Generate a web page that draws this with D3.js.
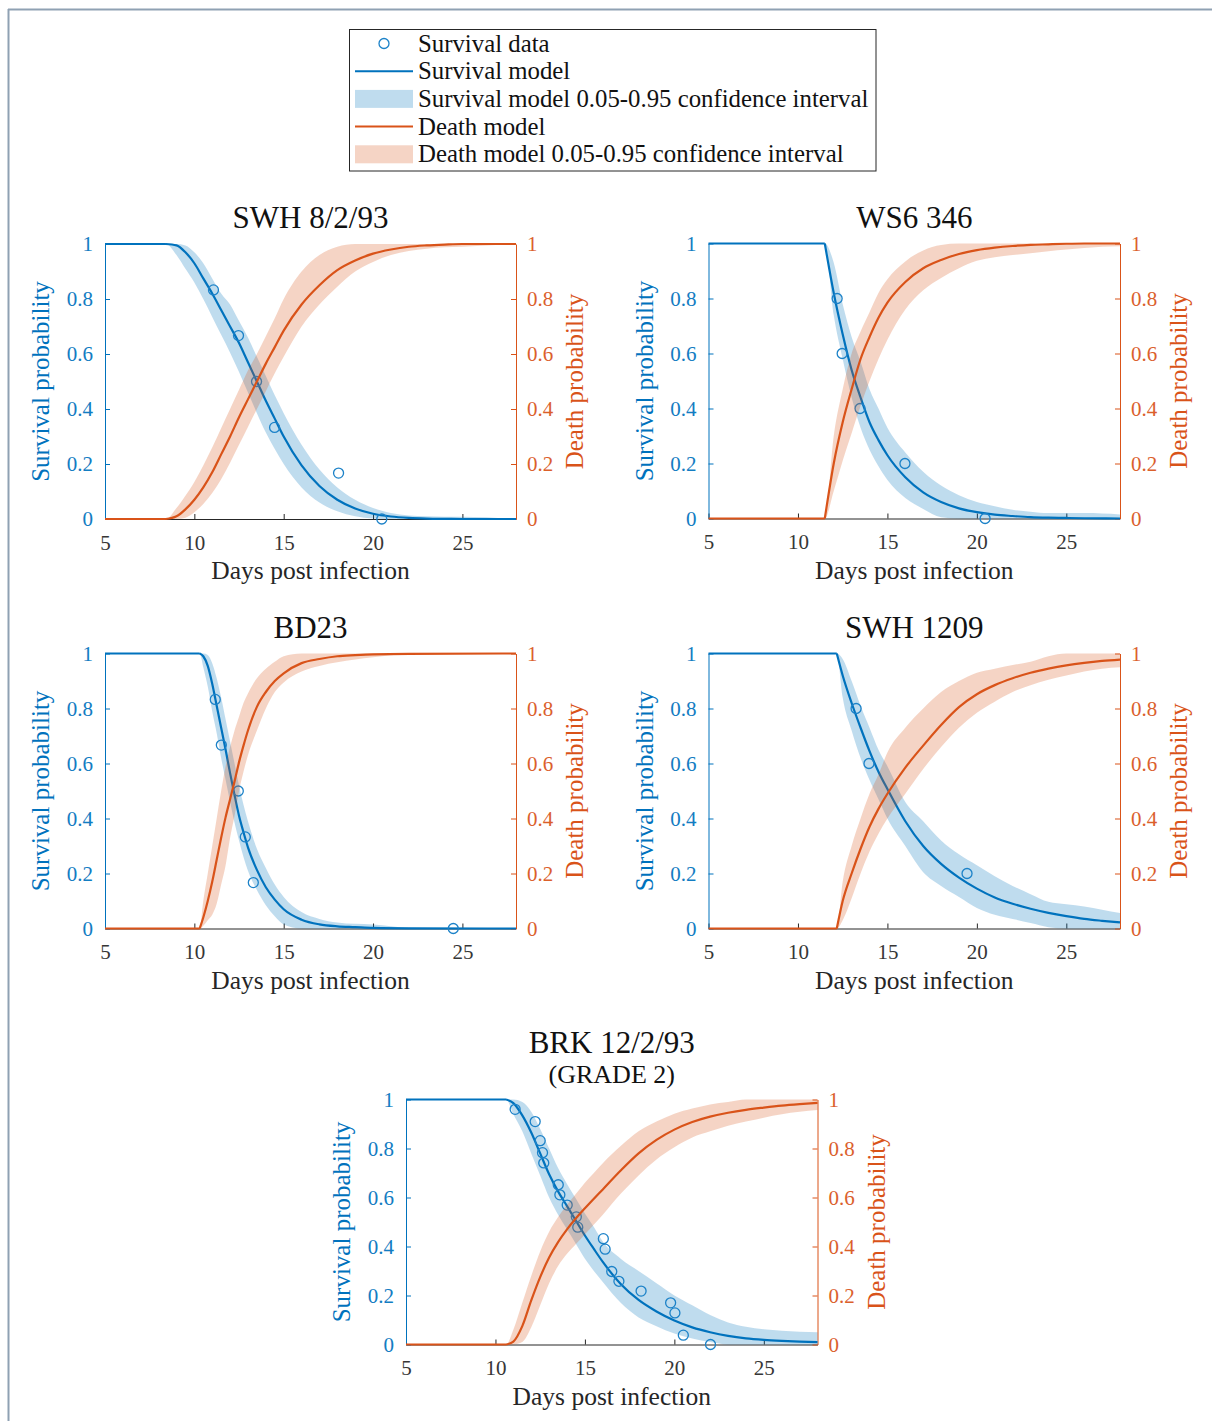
<!DOCTYPE html>
<html>
<head>
<meta charset="utf-8">
<script src="https://cdn.jsdelivr.net/npm/d3@7"></script>
<style>
	body { margin: 0; background: #fff; }
	svg { display: block; }
	text { font-family: "Liberation Serif", "Times New Roman", serif; }
</style>
</head>
<body>
<script>

var xTicks = [5, 10, 15, 20, 25]
var yTicks = [0, 0.2, 0.4, 0.6, 0.8, 1]

var legendLabels = [
	'Survival data',
	'Survival model',
	'Survival model 0.05-0.95 confidence interval',
	'Death model',
	'Death model 0.05-0.95 confidence interval'
]

// SWH 8/2/93
var days1 = [5, 8.4, 9, 9.5, 10, 10.5, 11, 11.5, 12, 12.5, 13, 13.5, 14, 14.5, 15, 16, 17, 18, 19, 20, 21, 22, 23, 24, 25, 28]
var surv1 = [1, 1, 0.995, 0.97, 0.93, 0.875, 0.82, 0.76, 0.70, 0.64, 0.57, 0.50, 0.43, 0.365, 0.30, 0.195, 0.12, 0.07, 0.038, 0.019, 0.009, 0.004, 0.0015, 0.0005, 0, 0]
var survHi1 = [1, 1, 1, 0.995, 0.97, 0.93, 0.875, 0.82, 0.78, 0.72, 0.66, 0.59, 0.52, 0.45, 0.385, 0.27, 0.18, 0.115, 0.07, 0.04, 0.022, 0.013, 0.01, 0.008, 0.008, 0]
var survLo1 = [1, 1, 0.96, 0.91, 0.86, 0.80, 0.735, 0.67, 0.605, 0.535, 0.46, 0.385, 0.315, 0.255, 0.2, 0.115, 0.06, 0.028, 0.01, 0.002, 0, 0, 0, 0, 0, 0]
var death1 = [0, 0, 0.01, 0.035, 0.07, 0.115, 0.17, 0.235, 0.30, 0.37, 0.435, 0.50, 0.565, 0.625, 0.685, 0.78, 0.85, 0.905, 0.94, 0.965, 0.98, 0.99, 0.995, 0.998, 1, 1]
var deathHi1 = [0, 0, 0.04, 0.085, 0.135, 0.195, 0.26, 0.33, 0.4, 0.47, 0.54, 0.6, 0.665, 0.73, 0.8, 0.9, 0.96, 0.99, 1, 1, 1, 1, 1, 1, 1, 1]
var deathLo1 = [0, 0, 0, 0.005, 0.025, 0.055, 0.095, 0.145, 0.205, 0.27, 0.335, 0.4, 0.465, 0.53, 0.59, 0.7, 0.78, 0.845, 0.9, 0.935, 0.96, 0.975, 0.983, 0.988, 0.99, 1]
var obsDays1 = [11.07, 12.47, 13.48, 14.49, 18.07, 20.49]
var obsSurv1 = [0.833, 0.667, 0.5, 0.333, 0.167, 0]

// WS6 346
var days2 = [5, 11.5, 12, 12.5, 13, 13.5, 14, 14.5, 15, 16, 17, 18, 19, 20, 21, 22, 23, 24, 25, 26, 28]
var surv2 = [1, 1, 0.82, 0.67, 0.54, 0.44, 0.35, 0.285, 0.23, 0.15, 0.095, 0.06, 0.037, 0.023, 0.014, 0.009, 0.005, 0.003, 0.002, 0.001, 0]
var survHi2 = [1, 1, 0.93, 0.78, 0.66, 0.57, 0.47, 0.4, 0.33, 0.24, 0.17, 0.12, 0.085, 0.06, 0.045, 0.032, 0.025, 0.02, 0.02, 0.02, 0.015]
var survLo2 = [1, 1, 0.74, 0.58, 0.44, 0.33, 0.25, 0.19, 0.14, 0.075, 0.035, 0.005, 0, 0, 0, 0, 0, 0, 0, 0, 0]
var death2 = [0, 0, 0.2, 0.35, 0.47, 0.58, 0.66, 0.73, 0.785, 0.86, 0.91, 0.94, 0.962, 0.976, 0.985, 0.991, 0.995, 0.997, 0.999, 1, 1]
var deathHi2 = [0, 0, 0.3, 0.47, 0.6, 0.68, 0.75, 0.82, 0.87, 0.935, 0.975, 0.995, 1, 1, 1, 1, 1, 1, 1, 1, 1]
var deathLo2 = [0, 0, 0.1, 0.21, 0.31, 0.41, 0.5, 0.58, 0.65, 0.76, 0.83, 0.875, 0.91, 0.937, 0.95, 0.958, 0.965, 0.972, 0.978, 0.984, 0.99]
var obsDays2 = [12.19, 12.47, 13.47, 15.98, 20.46]
var obsSurv2 = [0.8, 0.6, 0.4, 0.2, 0]

// BD23
var days3 = [5, 10.3, 10.5, 10.75, 11, 11.25, 11.5, 11.75, 12, 12.25, 12.5, 12.75, 13, 13.5, 14, 14.5, 15, 16, 17, 18, 19, 20, 22, 28]
var surv3 = [1, 1, 0.99, 0.955, 0.89, 0.81, 0.73, 0.65, 0.565, 0.485, 0.41, 0.35, 0.295, 0.213, 0.15, 0.105, 0.07, 0.032, 0.015, 0.008, 0.005, 0.002, 0.0005, 0]
var survHi3 = [1, 1, 1, 0.995, 0.965, 0.91, 0.84, 0.76, 0.68, 0.6, 0.52, 0.45, 0.39, 0.29, 0.22, 0.16, 0.115, 0.06, 0.035, 0.022, 0.017, 0.015, 0.003, 0]
var survLo3 = [1, 1, 0.95, 0.88, 0.79, 0.71, 0.62, 0.54, 0.46, 0.385, 0.32, 0.26, 0.21, 0.14, 0.085, 0.045, 0.015, 0, 0, 0, 0, 0, 0, 0]
var death3 = [0, 0, 0.04, 0.1, 0.17, 0.25, 0.33, 0.405, 0.47, 0.535, 0.605, 0.665, 0.72, 0.806, 0.86, 0.9, 0.928, 0.965, 0.98, 0.99, 0.994, 0.997, 0.999, 1]
var deathHi3 = [0, 0, 0.1, 0.2, 0.3, 0.4, 0.5, 0.59, 0.66, 0.72, 0.77, 0.82, 0.855, 0.91, 0.945, 0.97, 0.99, 1, 1, 1, 1, 1, 1, 1]
var deathLo3 = [0, 0, 0.01, 0.03, 0.05, 0.09, 0.16, 0.23, 0.33, 0.41, 0.5, 0.57, 0.63, 0.72, 0.8, 0.86, 0.895, 0.935, 0.955, 0.968, 0.978, 0.986, 0.997, 1]
var obsDays3 = [11.17, 11.51, 12.46, 12.85, 13.3, 24.49]
var obsSurv3 = [0.833, 0.667, 0.5, 0.333, 0.167, 0]

// SWH 1209
var days4 = [5, 12.17, 12.5, 13, 13.5, 14, 14.5, 15, 16, 17, 18, 19, 20, 21, 22, 23, 24, 25, 26, 27, 28]
var surv4 = [1, 1, 0.92, 0.82, 0.73, 0.645, 0.57, 0.507, 0.39, 0.30, 0.235, 0.185, 0.145, 0.113, 0.09, 0.072, 0.057, 0.045, 0.035, 0.028, 0.022]
var survHi4 = [1, 1, 0.98, 0.9, 0.81, 0.73, 0.65, 0.59, 0.46, 0.39, 0.32, 0.27, 0.23, 0.19, 0.155, 0.125, 0.097, 0.088, 0.08, 0.068, 0.056]
var survLo4 = [1, 1, 0.84, 0.72, 0.62, 0.54, 0.47, 0.4, 0.3, 0.205, 0.155, 0.115, 0.075, 0.05, 0.035, 0.02, 0.005, 0, 0, 0, 0]
var death4 = [0, 0, 0.1, 0.2, 0.29, 0.37, 0.435, 0.49, 0.585, 0.665, 0.74, 0.805, 0.852, 0.885, 0.91, 0.93, 0.945, 0.957, 0.966, 0.973, 0.978]
var deathHi4 = [0, 0, 0.17, 0.3, 0.4, 0.49, 0.56, 0.64, 0.73, 0.8, 0.86, 0.9, 0.93, 0.945, 0.958, 0.97, 0.99, 1, 1, 1, 1]
var deathLo4 = [0, 0, 0.03, 0.11, 0.2, 0.28, 0.345, 0.4, 0.49, 0.58, 0.66, 0.73, 0.785, 0.825, 0.86, 0.885, 0.905, 0.92, 0.935, 0.945, 0.95]
var obsDays4 = [13.25, 13.97, 19.45]
var obsSurv4 = [0.8, 0.6, 0.2]

// BRK 12/2/93 (GRADE 2)
var days5 = [5, 10.6, 11, 11.5, 12, 12.5, 13, 13.5, 14, 14.5, 15, 15.5, 16, 17, 18, 19, 20, 21, 22, 23, 24, 25, 26, 27, 28]
var surv5 = [1, 1, 0.985, 0.935, 0.865, 0.78, 0.695, 0.625, 0.565, 0.505, 0.445, 0.39, 0.337, 0.247, 0.182, 0.135, 0.098, 0.07, 0.05, 0.035, 0.025, 0.019, 0.015, 0.012, 0.01]
var survHi5 = [1, 1, 1, 0.99, 0.95, 0.88, 0.8, 0.72, 0.655, 0.595, 0.535, 0.48, 0.42, 0.35, 0.3, 0.25, 0.2, 0.16, 0.12, 0.09, 0.072, 0.062, 0.056, 0.052, 0.05]
var survLo5 = [1, 1, 0.94, 0.87, 0.78, 0.69, 0.6, 0.53, 0.47, 0.41, 0.35, 0.3, 0.255, 0.17, 0.11, 0.075, 0.045, 0.025, 0.01, 0, 0, 0, 0, 0, 0]
var death5 = [0, 0, 0.012, 0.075, 0.18, 0.275, 0.355, 0.418, 0.47, 0.515, 0.556, 0.595, 0.633, 0.71, 0.78, 0.835, 0.877, 0.908, 0.93, 0.946, 0.958, 0.967, 0.975, 0.981, 0.986]
var deathHi5 = [0, 0, 0.06, 0.17, 0.28, 0.38, 0.46, 0.52, 0.57, 0.615, 0.66, 0.7, 0.74, 0.81, 0.87, 0.91, 0.942, 0.963, 0.98, 0.99, 1, 1, 1, 1, 1]
var deathLo5 = [0, 0, 0, 0.01, 0.07, 0.16, 0.25, 0.32, 0.37, 0.41, 0.45, 0.49, 0.53, 0.615, 0.69, 0.755, 0.805, 0.845, 0.87, 0.893, 0.91, 0.926, 0.94, 0.95, 0.957]
var obsDays5 = [11.1, 12.22, 12.5, 12.63, 12.7, 13.51, 13.6, 14.01, 14.52, 14.6, 16.03, 16.13, 16.5, 16.9, 18.14, 19.79, 20.03, 20.5, 22.02]
var obsSurv5 = [0.96, 0.91, 0.832, 0.783, 0.741, 0.652, 0.611, 0.569, 0.521, 0.479, 0.432, 0.389, 0.298, 0.258, 0.218, 0.17, 0.129, 0.038, 0]

var blue = '#0072BD',
	orange = '#D95319'

var svg = d3.select('body').append('svg')
	.attr('width', 1212)
	.attr('height', 1421)

// page frame
svg.append('line')
	.attr('x1', 8).attr('y1', 9.5).attr('x2', 1212).attr('y2', 9.5)
	.attr('stroke', '#8fa1b3').attr('stroke-width', 2)
svg.append('line')
	.attr('x1', 8.5).attr('y1', 9).attr('x2', 8.5).attr('y2', 1421)
	.attr('stroke', '#8fa1b3').attr('stroke-width', 2)

var panels = [
	{title: 'SWH 8/2/93', left: 105, top: 244, width: 411, height: 275,
		days: days1, surv: surv1, survHi: survHi1, survLo: survLo1, death: death1, deathHi: deathHi1, deathLo: deathLo1, obsDays: obsDays1, obsSurv: obsSurv1},
	{title: 'WS6 346', left: 708.5, top: 243.5, width: 411.5, height: 275,
		days: days2, surv: surv2, survHi: survHi2, survLo: survLo2, death: death2, deathHi: deathHi2, deathLo: deathLo2, obsDays: obsDays2, obsSurv: obsSurv2},
	{title: 'BD23', left: 105, top: 653.5, width: 411, height: 275,
		days: days3, surv: surv3, survHi: survHi3, survLo: survLo3, death: death3, deathHi: deathHi3, deathLo: deathLo3, obsDays: obsDays3, obsSurv: obsSurv3},
	{title: 'SWH 1209', left: 708.5, top: 653.5, width: 411.5, height: 275,
		days: days4, surv: surv4, survHi: survHi4, survLo: survLo4, death: death4, deathHi: deathHi4, deathLo: deathLo4, obsDays: obsDays4, obsSurv: obsSurv4},
	{title: 'BRK 12/2/93', subtitle: '(GRADE 2)', left: 406, top: 1099.5, width: 411.5, height: 245,
		days: days5, surv: surv5, survHi: survHi5, survLo: survLo5, death: death5, deathHi: deathHi5, deathLo: deathLo5, obsDays: obsDays5, obsSurv: obsSurv5}
]

// flat part drawn straight, the rest smooth, so a sharp start stays sharp
function splitAtOnset(days, vals) {
	var k = 0
	while (k + 1 < vals.length && vals[k + 1] === vals[0]) k++
	var pts = days.map((d, i) => [d, vals[i]])
	return [pts.slice(0, k + 1), pts.slice(k)]
}

function drawPanel(p) {
	var x = d3.scaleLinear().domain([5, 28]).range([p.left, p.left + p.width])
	var y = d3.scaleLinear().domain([0, 1]).range([p.top + p.height, p.top])
	var bottom = p.top + p.height,
		right = p.left + p.width,
		midY = p.top + p.height / 2,
		midX = p.left + p.width / 2

	var g = svg.append('g')

	// axes
	g.append('g')
		.attr('transform', 'translate(0,' + bottom + ')')
		.call(d3.axisBottom(x).tickValues(xTicks).tickSize(-5).tickSizeOuter(0).tickPadding(16))
		.attr('color', '#262626')
		.attr('font-size', 21)

	g.append('g')
		.attr('transform', 'translate(' + p.left + ',0)')
		.call(d3.axisLeft(y).tickValues(yTicks).tickSize(-5).tickSizeOuter(0).tickPadding(12).tickFormat(d => String(d)))
		.attr('color', blue)
		.attr('font-size', 21)

	g.append('g')
		.attr('transform', 'translate(' + right + ',0)')
		.call(d3.axisRight(y).tickValues(yTicks).tickSize(-5).tickSizeOuter(0).tickPadding(11).tickFormat(d => String(d)))
		.attr('color', orange)
		.attr('font-size', 21)

	g.selectAll('.tick text').attr('opacity', 0.92)

	// axis labels
	g.append('text')
		.attr('transform', 'translate(' + (p.left - 56) + ',' + midY + ') rotate(-90)')
		.attr('text-anchor', 'middle')
		.attr('font-size', 25)
		.attr('fill', blue)
		.text('Survival probability')

	g.append('text')
		.attr('transform', 'translate(' + (right + 67) + ',' + midY + ') rotate(-90)')
		.attr('text-anchor', 'middle')
		.attr('font-size', 25)
		.attr('fill', orange)
		.text('Death probability')

	g.append('text')
		.attr('x', midX)
		.attr('y', bottom + 60)
		.attr('text-anchor', 'middle')
		.attr('font-size', 25.5)
		.attr('fill', '#262626')
		.text('Days post infection')

	// title
	if (p.subtitle) {
		g.append('text')
			.attr('x', midX).attr('y', p.top - 47)
			.attr('text-anchor', 'middle').attr('font-size', 31).attr('fill', '#111')
			.text(p.title)
		g.append('text')
			.attr('x', midX).attr('y', p.top - 17)
			.attr('text-anchor', 'middle').attr('font-size', 26).attr('fill', '#111')
			.text(p.subtitle)
	} else {
		g.append('text')
			.attr('x', midX).attr('y', p.top - 16)
			.attr('text-anchor', 'middle').attr('font-size', 31).attr('fill', '#111')
			.text(p.title)
	}

	var band = (lo, hi) => d3.area()
		.curve(d3.curveMonotoneX)
		.x((d, i) => x(p.days[i]))
		.y0((d, i) => y(lo[i]))
		.y1((d, i) => y(hi[i]))(p.days)

	var flat = d3.line().x(d => x(d[0])).y(d => y(d[1]))
	var smooth = d3.line().curve(d3.curveMonotoneX).x(d => x(d[0])).y(d => y(d[1]))

	// survival (left axis)
	g.append('path')
		.attr('d', band(p.survLo, p.survHi))
		.attr('fill', blue)
		.attr('fill-opacity', 0.25)

	var sParts = splitAtOnset(p.days, p.surv)
	g.append('path').attr('d', flat(sParts[0]) + smooth(sParts[1]))
		.attr('fill', 'none').attr('stroke', blue).attr('stroke-width', 2.2)

	g.selectAll('circle.obs')
		.data(p.obsDays)
		.enter()
		.append('circle')
			.attr('class', 'obs')
			.attr('cx', d => x(d))
			.attr('cy', (d, i) => y(p.obsSurv[i]))
			.attr('r', 5)
			.attr('fill', 'none')
			.attr('stroke', '#1c82c8')
			.attr('stroke-width', 1.3)

	// death (right axis)
	g.append('path')
		.attr('d', band(p.deathLo, p.deathHi))
		.attr('fill', orange)
		.attr('fill-opacity', 0.25)

	var dParts = splitAtOnset(p.days, p.death)
	g.append('path').attr('d', flat(dParts[0]) + smooth(dParts[1]))
		.attr('fill', 'none').attr('stroke', orange).attr('stroke-width', 2.2)
}

panels.forEach(drawPanel)

// LEGEND
var legend = svg.append('g')

legend.append('rect')
	.attr('x', 349.5).attr('y', 29.5)
	.attr('width', 526.5).attr('height', 141.5)
	.attr('fill', '#fff')
	.attr('stroke', '#262626')
	.attr('stroke-width', 1)

var rowY = i => 43.5 + i * 27.7

legend.append('circle')
	.attr('cx', 384).attr('cy', rowY(0)).attr('r', 5)
	.attr('fill', 'none').attr('stroke', '#1c82c8').attr('stroke-width', 1.3)

legend.append('line')
	.attr('x1', 355).attr('x2', 413).attr('y1', rowY(1)).attr('y2', rowY(1))
	.attr('stroke', blue).attr('stroke-width', 2)

legend.append('rect')
	.attr('x', 355).attr('y', rowY(2) - 9).attr('width', 58).attr('height', 18)
	.attr('fill', blue).attr('fill-opacity', 0.25)

legend.append('line')
	.attr('x1', 355).attr('x2', 413).attr('y1', rowY(3)).attr('y2', rowY(3))
	.attr('stroke', orange).attr('stroke-width', 2)

legend.append('rect')
	.attr('x', 355).attr('y', rowY(4) - 9).attr('width', 58).attr('height', 18)
	.attr('fill', orange).attr('fill-opacity', 0.25)

legend.selectAll('text.lbl')
	.data(legendLabels)
	.enter()
	.append('text')
		.attr('class', 'lbl')
		.attr('x', 418)
		.attr('y', (d, i) => rowY(i) + 8)
		.attr('font-size', 24.8)
		.attr('fill', '#111')
		.text(d => d)

</script>
</body>
</html>
